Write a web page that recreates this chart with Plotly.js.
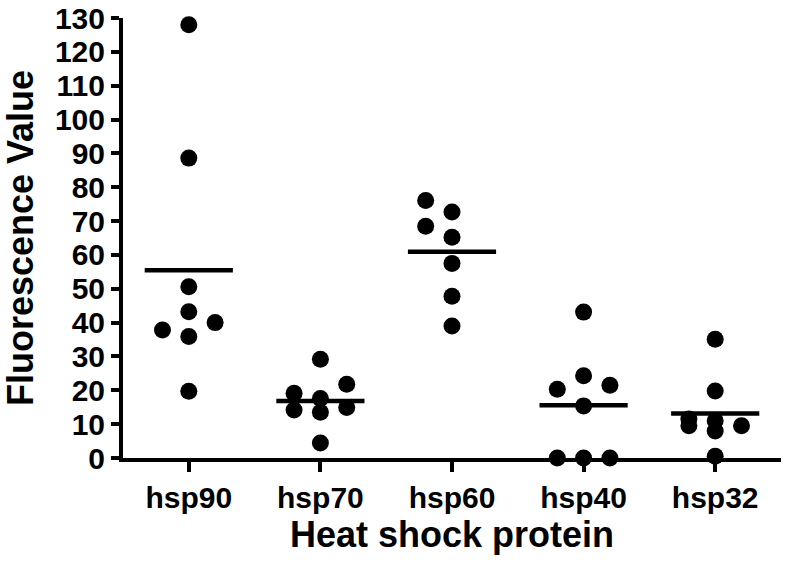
<!DOCTYPE html>
<html>
<head>
<meta charset="utf-8">
<script src="https://cdn.plot.ly/plotly-3.0.1.min.js"></script>
<style>html,body{margin:0;padding:0;background:#fff;}#chart{width:786px;height:569px;}</style>
</head>
<body>
<div id="chart"></div>
<script>
// ---- data ----
var categories = ["hsp90", "hsp70", "hsp60", "hsp40", "hsp32"];
var hsp90 = [128, 88.6, 50.6, 43.2, 40.0, 37.8, 35.9, 19.7];
var hsp70 = [29.2, 21.8, 19.1, 17.6, 14.9, 14.2, 13.5, 4.4];
var hsp60 = [76.1, 72.7, 68.5, 65.2, 57.5, 47.8, 39.0];
var hsp40 = [43.1, 24.3, 21.5, 20.3, 15.4, 0, 0, 0];
var hsp32 = [35.1, 19.8, 11.5, 11.0, 9.5, 9.5, 8.0, 0.5];
var yTicks = [0,10,20,30,40,50,60,70,80,90,100,110,120,130];

var groups = [hsp90, hsp70, hsp60, hsp40, hsp32];

// ---- simple column-scatter layout (computed, not typed) ----
var W = 786, H = 569;
var M = {l: 123, r: 5, t: 18, b: 111};
var yRange = [0, 130];
var pxPerUnit = (H - M.t - M.b) / (yRange[1] - yRange[0]);
var slotStep = 0.2;
var slots = [0, -1, 1];
var minGap = 22; // px

function swarm(vals) {
  var order = vals.map(function (v, i) { return i; }).sort(function (a, b) { return vals[a] - vals[b]; });
  var placed = []; var off = new Array(vals.length);
  order.forEach(function (i) {
    var best = null, bestClear = -1;
    for (var s = 0; s < slots.length; s++) {
      var clear = Infinity;
      placed.forEach(function (p) {
        if (p.slot === slots[s]) clear = Math.min(clear, Math.abs(vals[i] - p.v) * pxPerUnit);
      });
      if (clear >= minGap) { best = slots[s]; break; }
      if (clear > bestClear) { bestClear = clear; best = slots[s]; }
    }
    placed.push({slot: best, v: vals[i]});
    off[i] = best * slotStep;
  });
  return off;
}

var traces = [];
groups.forEach(function (vals, gi) {
  var off = swarm(vals);
  traces.push({
    type: 'scatter', mode: 'markers',
    x: vals.map(function (v, i) { return gi + off[i]; }),
    y: vals,
    marker: {color: '#000', size: 17},
    cliponaxis: false, hoverinfo: 'skip', showlegend: false
  });
  var mean = vals.reduce(function (a, b) { return a + b; }, 0) / vals.length;
  traces.push({
    type: 'scatter', mode: 'lines',
    x: [gi - 0.335, gi + 0.335], y: [mean, mean],
    line: {color: '#000', width: 4.5},
    cliponaxis: false, hoverinfo: 'skip', showlegend: false
  });
});

var fam = 'Liberation Sans, Arial, Helvetica, sans-serif';
var layout = {
  width: W, height: H,
  margin: M,
  paper_bgcolor: '#fff', plot_bgcolor: '#fff',
  showlegend: false,
  font: {family: fam, color: '#000'},
  xaxis: {
    range: [-0.5, 4.5], tickmode: 'array',
    tickvals: categories.map(function (c, i) { return i; }),
    ticktext: categories,
    showgrid: false, zeroline: false,
    showline: true, linecolor: '#000', linewidth: 4,
    ticks: 'outside', ticklen: 10, tickwidth: 4, tickcolor: '#000',
    tickfont: {family: fam, size: 30, weight: 'bold', color: '#000'},
    title: {text: 'Heat shock protein', font: {family: fam, size: 36, weight: 'bold', color: '#000'}, standoff: 6},
    automargin: false, fixedrange: true
  },
  yaxis: {
    range: yRange, tickmode: 'array', tickvals: yTicks,
    showgrid: false, zeroline: false,
    showline: true, linecolor: '#000', linewidth: 4,
    ticks: 'outside', ticklen: 8, tickwidth: 4, tickcolor: '#000',
    tickfont: {family: fam, size: 30, weight: 'bold', color: '#000'},
    title: {text: 'Fluorescence Value', font: {family: fam, size: 36, weight: 'bold', color: '#000'}, standoff: 18},
    automargin: false, fixedrange: true
  }
};

Plotly.newPlot('chart', traces, layout, {staticPlot: true, displayModeBar: false});
</script>
</body>
</html>
